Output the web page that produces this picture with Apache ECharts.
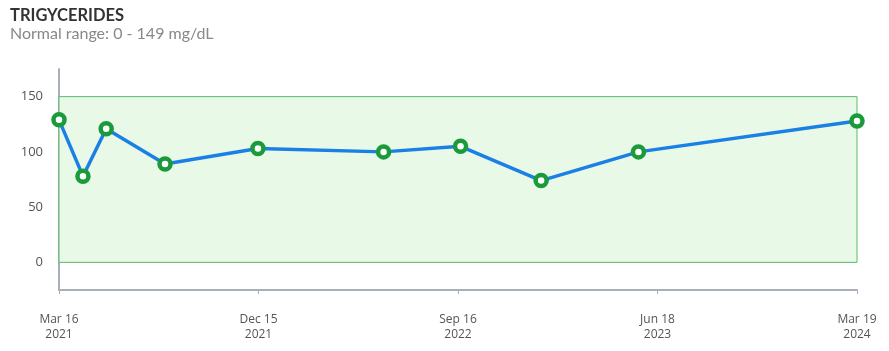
<!DOCTYPE html>
<html><head><meta charset="utf-8">
<script src="https://cdn.jsdelivr.net/npm/echarts@6/dist/echarts.min.js"></script>
<style>html,body{margin:0;padding:0;background:#fff}#c{width:889px;height:351px}</style>
</head><body><div id="c"></div>
<script>
const title = 'TRIGYCERIDES';
const subtitle = 'Normal range: 0 - 149 mg/dL';
const dates = ['2021-03-16','2021-04-18','2021-05-20','2021-08-09','2021-12-15','2022-06-06','2022-09-20','2023-01-09','2023-05-23','2024-03-19'];
const values = [129, 78, 121, 89, 103, 100, 105, 74, 100, 128];
const tickLabels = ['Mar 16\n2021','Dec 15\n2021','Sep 16\n2022','Jun 18\n2023','Mar 19\n2024'];
const yLabels = [0, 50, 100, 150];
const normalRange = [0, 149];

const ts = d => new Date(d + 'T00:00:00Z').getTime();
const xMin = ts(dates[0]);
const xMax = ts(dates[dates.length - 1]);
const xInt = (xMax - xMin) / (tickLabels.length - 1);

const chart = echarts.init(document.getElementById('c'));
chart.setOption({
  animation: false,
  title: [
    {text: title, left: 5, top: 2, textStyle: {fontFamily: 'Lato', fontWeight: 'bold', fontSize: 16.5, color: '#333'}},
    {text: subtitle, left: 5, top: 21, textStyle: {fontFamily: 'Lato', fontWeight: 'normal', fontSize: 16, color: '#888'}}
  ],
  grid: {left: 59, right: 32, top: 69, bottom: 61},
  xAxis: {
    type: 'value', min: xMin, max: xMax, interval: xInt,
    axisLine: {onZero: false, lineStyle: {color: '#a7b0b8', width: 2}},
    axisTick: {show: true, length: 4, lineStyle: {color: '#a7b0b8'}},
    splitLine: {show: false},
    axisLabel: {
      margin: 22, color: '#555', fontFamily: 'Open Sans', fontSize: 12, lineHeight: 15,
      formatter: v => tickLabels[Math.round((v - xMin) / xInt)] || ''
    }
  },
  yAxis: {
    type: 'value', min: -25, max: 175, interval: 25,
    axisLine: {show: true, onZero: false, lineStyle: {color: '#a7b0b8', width: 2}},
    axisTick: {show: false},
    splitLine: {show: false},
    axisLabel: {
      margin: 16, color: '#555', fontFamily: 'Open Sans', fontSize: 13,
      formatter: v => yLabels.indexOf(v) >= 0 ? String(v) : ''
    }
  },
  series: [{
    type: 'line',
    data: dates.map((d, i) => [ts(d), values[i]]),
    lineStyle: {color: '#1a80e6', width: 3.5},
    symbol: 'circle', symbolSize: 11,
    itemStyle: {color: '#ffffff', borderColor: '#1a9a3a', borderWidth: 4.5},
    z: 5,
    markArea: {
      silent: true,
      itemStyle: {color: '#e9f9e7', borderColor: '#5bbb6b', borderWidth: 1},
      data: [[{xAxis: xMin, yAxis: normalRange[0]}, {xAxis: xMax, yAxis: normalRange[1] + 1}]]
    }
  }]
});
</script></body></html>
